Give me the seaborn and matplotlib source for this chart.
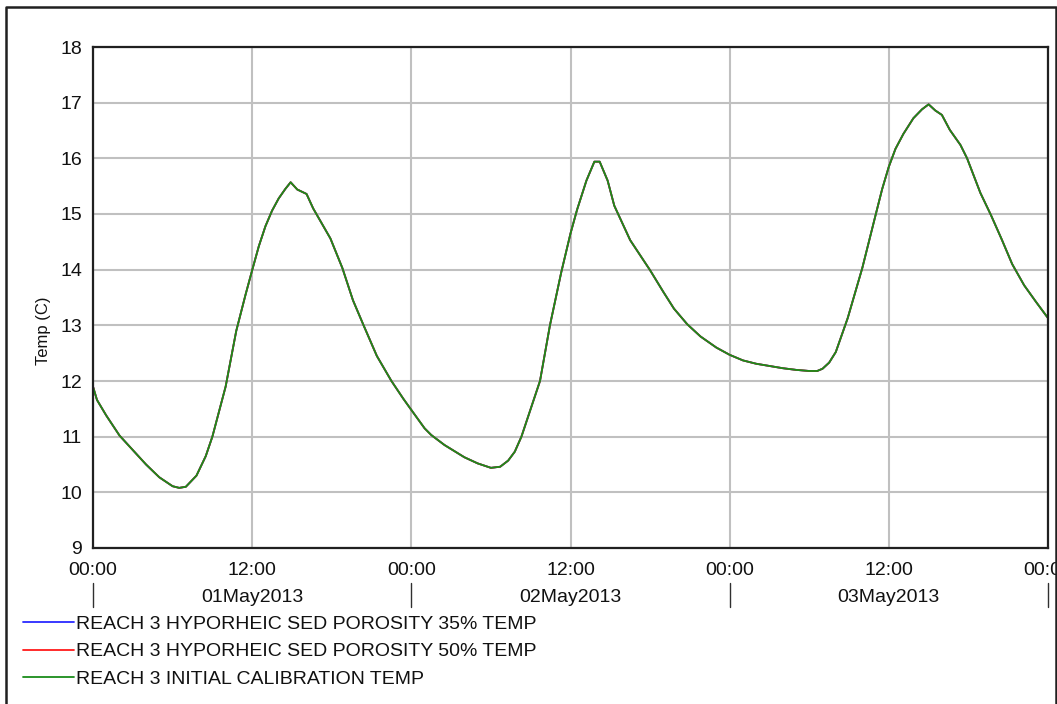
import matplotlib
matplotlib.use("Agg")
import matplotlib.pyplot as plt
from matplotlib.lines import Line2D
import pandas as pd
import seaborn as sns

# Simulated stream temperature, hours since 01May2013 00:00
hours = [0, 0.3, 1, 2, 3, 4, 5, 6, 6.5, 7, 7.8, 8.5, 9, 10, 10.8, 11.5, 12,
         12.5, 13, 13.5, 14, 14.5, 14.9, 15.4, 16.1, 16.6, 17.9, 18.8, 19.6,
         20.4, 21.4, 22.5, 23.4, 24, 25, 25.5, 26.5, 28, 29, 30, 30.7, 31.3,
         31.8, 32.3, 33, 33.7, 34.45, 35.3, 36, 36.5, 37.2, 37.8, 38.2, 38.8,
         39.3, 40.5, 42, 43, 43.8, 44.8, 45.8, 47, 48, 49, 50, 51, 52, 53, 54,
         54.6, 55, 55.5, 56, 56.9, 58, 59, 59.5, 60, 60.5, 61.1, 61.85, 62.5,
         63, 63.5, 64, 64.6, 65.4, 65.9, 66.9, 67.7, 68.5, 69.3, 70.2, 71.1,
         72]
temp_calibration = [11.90, 11.66, 11.38, 11.02, 10.76, 10.50, 10.27, 10.11,
                    10.08, 10.10, 10.30, 10.65, 11.00, 11.90, 12.90, 13.55,
                    13.99, 14.42, 14.78, 15.06, 15.28, 15.45, 15.57, 15.44,
                    15.36, 15.10, 14.56, 14.03, 13.45, 13.00, 12.45, 12.00,
                    11.68, 11.48, 11.15, 11.03, 10.85, 10.63, 10.52, 10.44,
                    10.46, 10.57, 10.73, 11.00, 11.50, 12.00, 13.00, 13.95,
                    14.65, 15.08, 15.60, 15.94, 15.94, 15.60, 15.15, 14.53,
                    13.99, 13.60, 13.30, 13.02, 12.80, 12.60, 12.47, 12.37,
                    12.31, 12.27, 12.23, 12.20, 12.18, 12.18, 12.22, 12.33,
                    12.52, 13.13, 14.03, 14.98, 15.45, 15.85, 16.17, 16.44,
                    16.72, 16.88, 16.97, 16.86, 16.78, 16.51, 16.24, 16.00,
                    15.38, 14.98, 14.55, 14.10, 13.72, 13.42, 13.13]
# The two porosity scenarios give the same temperatures as the calibration run
temp_porosity35 = list(temp_calibration)
temp_porosity50 = list(temp_calibration)

series_names = ["REACH 3 HYPORHEIC SED POROSITY 35% TEMP",
                "REACH 3 HYPORHEIC SED POROSITY 50% TEMP",
                "REACH 3 INITIAL CALIBRATION TEMP"]
series_colors = ["#2a2aff", "#ff1a1a", "#1a8c1a"]

time_ticks = [0, 12, 24, 36, 48, 60, 72]
time_labels = ["00:00", "12:00", "00:00", "12:00", "00:00", "12:00", "00:00"]
day_centers = [12, 36, 60]
day_labels = ["01May2013", "02May2013", "03May2013"]
day_bounds = [0, 24, 48, 72]
y_ticks = list(range(9, 19))

frames = []
for name, vals in zip(series_names,
                      [temp_porosity35, temp_porosity50, temp_calibration]):
    frames.append(pd.DataFrame({"hour": hours, "temp": vals, "series": name}))
df = pd.concat(frames, ignore_index=True)

sns.set_style("white")
plt.rcParams["font.family"] = ["Liberation Sans", "DejaVu Sans"]

FS = 14
W, H = 1057, 704
fig = plt.figure(figsize=(W / 100, H / 100), dpi=100)
ax = fig.add_axes([93 / W, 1 - 548 / H, 955 / W, 501 / H])

sns.lineplot(data=df, x="hour", y="temp", hue="series",
             hue_order=series_names, palette=series_colors,
             linewidth=1.3, legend=False, estimator=None, sort=False, ax=ax)

ax.set_xlim(0, 72)
ax.set_ylim(9, 18)
ax.set_xticks(time_ticks)
ax.set_xticklabels(time_labels)
ax.set_yticks(y_ticks)
ax.set_axisbelow(True)
ax.grid(True, color="#c0c0c0", linewidth=1.5)
for side in ["left", "bottom", "top", "right"]:
    ax.spines[side].set_visible(True)
    ax.spines[side].set_color("#202020")
    ax.spines[side].set_linewidth(1.6)
ax.tick_params(axis="x", direction="out", length=4, width=1, color="#303030",
               pad=6, labelsize=FS, labelcolor="#111111")
ax.tick_params(axis="y", direction="out", length=5, width=1, color="#303030",
               pad=3, labelsize=FS, labelcolor="#111111")
ax.set_xlabel("")
ax.set_ylabel("Temp (C)", fontsize=12, color="#111111")
ax.yaxis.set_label_coords(-0.044, 0.433)

# Day labels under the time axis, with day separators
xtrans = ax.get_xaxis_transform()
for c, lab in zip(day_centers, day_labels):
    ax.text(c, -0.099, lab, transform=xtrans, ha="center", va="center",
            fontsize=FS, color="#111111")
for b in day_bounds:
    ax.plot([b, b], [-0.070, -0.118], transform=xtrans, clip_on=False,
            color="#303030", linewidth=1)

# Border around the whole figure
fig.add_artist(Line2D([6 / W, 6 / W, 1056 / W, 1056 / W],
                      [0, 1 - 7 / H, 1 - 7 / H, 0],
                      transform=fig.transFigure, color="#202020",
                      linewidth=1.8))

handles = [Line2D([], [], color=c, linewidth=1.3) for c in series_colors]
fig.legend(handles, series_names, loc="upper left",
           bbox_to_anchor=(23 / W, 1 - 615 / H), frameon=False,
           fontsize=FS, handlelength=2.62, handletextpad=0.1,
           labelspacing=0.52, borderpad=0, borderaxespad=0,
           labelcolor="#111111")

fig.savefig("out.png", dpi=100)
